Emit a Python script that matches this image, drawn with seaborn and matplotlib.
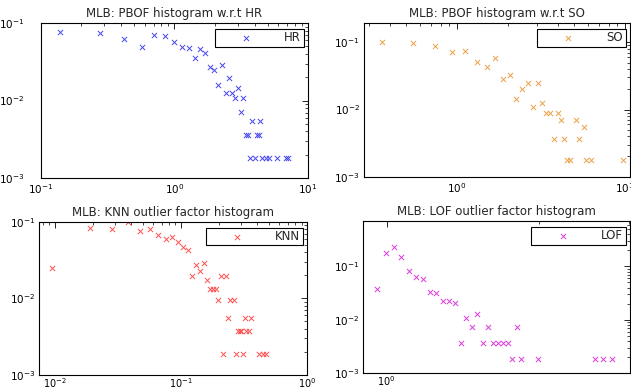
import matplotlib
matplotlib.use("Agg")
import matplotlib.pyplot as plt
import seaborn as sns
import pandas as pd
from matplotlib.ticker import LogLocator, NullFormatter, LogFormatterSciNotation

sns.set_theme(style="white")
plt.rcParams['font.family'] = ['DejaVu Sans']

# ---------------- data ----------------
hr_x = [0.14, 0.28, 0.42, 0.57, 0.71, 0.85, 0.99, 1.14, 1.28, 1.42, 1.56, 1.71, 1.85,
        1.99, 2.13, 2.28, 2.42, 2.56, 2.70, 2.85, 2.99, 3.13, 3.27, 3.42, 3.56, 3.70,
        3.84, 3.99, 4.13, 4.27, 4.41, 4.56, 4.84, 5.13, 5.84, 6.84, 7.12]
hr_y = [0.0765, 0.075, 0.0628, 0.049, 0.070, 0.0687, 0.0574, 0.0496, 0.0471, 0.0357,
        0.0462, 0.0406, 0.0268, 0.025, 0.016, 0.0285, 0.0125, 0.0195, 0.0125, 0.0108,
        0.0145, 0.0072, 0.0108, 0.0036, 0.0036, 0.0018, 0.0054, 0.0018, 0.0036, 0.0036,
        0.0054, 0.0018, 0.0018, 0.0018, 0.0018, 0.0018, 0.0018]

so_x = [0.36, 0.55, 0.74, 0.93, 1.12, 1.31, 1.50, 1.69, 1.88, 2.07, 2.26, 2.45, 2.64,
        2.83, 3.02, 3.21, 3.40, 3.59, 3.78, 3.97, 4.16, 4.35, 4.54, 4.73, 5.11, 5.30,
        5.68, 5.87, 6.25, 9.67]
so_y = [0.100, 0.0977, 0.0892, 0.0718, 0.0743, 0.051, 0.0434, 0.0591, 0.0285, 0.0323,
        0.0143, 0.020, 0.0251, 0.0108, 0.0251, 0.0126, 0.009, 0.009, 0.0036, 0.009,
        0.0071, 0.0036, 0.0018, 0.0018, 0.0071, 0.0036, 0.0054, 0.0018, 0.0018, 0.0018]

knn_x = [0.0094, 0.0188, 0.0282, 0.0376, 0.047, 0.0564, 0.0658, 0.0752, 0.0846, 0.094,
         0.1034, 0.1128, 0.1222, 0.1316, 0.141, 0.1504, 0.1598, 0.1692, 0.1786, 0.188,
         0.1974, 0.2068, 0.2162, 0.2256, 0.235, 0.2444, 0.2632, 0.2726, 0.282, 0.2914,
         0.3008, 0.3102, 0.3196, 0.329, 0.3478, 0.3572, 0.4136, 0.4418, 0.47]
knn_y = [0.0249, 0.0827, 0.0802, 0.099, 0.0763, 0.0802, 0.0676, 0.0594, 0.0631, 0.0543,
         0.0463, 0.0423, 0.0194, 0.0272, 0.0230, 0.0289, 0.0173, 0.0132, 0.0132, 0.0132,
         0.0094, 0.0194, 0.0019, 0.0194, 0.0056, 0.0094, 0.0094, 0.0019, 0.0038, 0.0038,
         0.0038, 0.0019, 0.0056, 0.0038, 0.0038, 0.0056, 0.0019, 0.0019, 0.0019]

lof_x = [0.959, 0.996, 1.033, 1.069, 1.106, 1.143, 1.180, 1.217, 1.253, 1.290, 1.327,
         1.364, 1.401, 1.437, 1.474, 1.511, 1.548, 1.585, 1.621, 1.658, 1.695, 1.732,
         1.769, 1.805, 1.842, 1.989, 2.578, 2.671, 2.786]
lof_y = [0.0379, 0.182, 0.236, 0.153, 0.0818, 0.0641, 0.058, 0.0332, 0.0314, 0.0223,
         0.0223, 0.0207, 0.0037, 0.0109, 0.0074, 0.0129, 0.0037, 0.0074, 0.0037, 0.0037,
         0.0037, 0.0037, 0.00185, 0.0074, 0.00185, 0.00185, 0.00185, 0.00185, 0.00185]

titles = ["MLB: PBOF histogram w.r.t HR", "MLB: PBOF histogram w.r.t SO",
          "MLB: KNN outlier factor histogram", "MLB: LOF outlier factor histogram"]
labels = ["HR", "SO", "KNN", "LOF"]
colors = ["#4646f0", "#eba046", "#ff5050", "#dc3cdc"]

# ---------------- layout (pixels) ----------------
W, H = 631, 391
fig = plt.figure(figsize=(W / 100, H / 100), dpi=100)
fig.patch.set_facecolor("white")

def rect(l, r, t, b):
    return [l / W, 1 - b / H, (r - l) / W, (b - t) / H]

panels = [
    dict(x=hr_x, y=hr_y, pos=rect(40.7, 308, 23, 178), xlim=(0.1, 10), ylim=(1e-3, 1e-1), ypad=12, xpad=3, xls=7.5),
    dict(x=so_x, y=so_y, pos=rect(364, 630, 23, 176.7), xlim=(0.28, 10.7), ylim=(1e-3, 0.194), ypad=3, xpad=3, xls=7.5),
    dict(x=knn_x, y=knn_y, pos=rect(39.3, 307.3, 221.7, 375), xlim=(0.0075, 1.0), ylim=(1e-3, 1e-1), ypad=3, xpad=1, xls=7),
    dict(x=lof_x, y=lof_y, pos=rect(363.3, 630, 221, 373), xlim=(0.9, 3.02), ylim=(1e-3, 0.71), ypad=3, xpad=1, xls=7),
]

for i, p in enumerate(panels):
    ax = fig.add_axes(p["pos"])
    df = pd.DataFrame({"x": p["x"], "y": p["y"]})
    sns.scatterplot(data=df, x="x", y="y", ax=ax, marker="x", color=colors[i],
                    s=14, linewidth=0.7, label=labels[i])
    ax.set_xscale("log")
    ax.set_yscale("log")
    ax.set_xlim(*p["xlim"])
    ax.set_ylim(*p["ylim"])
    ax.set_xlabel("")
    ax.set_ylabel("")
    ax.set_facecolor("white")
    for sp in ax.spines.values():
        sp.set_visible(True)
        sp.set_color("black")
        sp.set_linewidth(0.8)
    for axis in (ax.xaxis, ax.yaxis):
        axis.set_major_locator(LogLocator(base=10, numticks=10))
        axis.set_minor_locator(LogLocator(base=10, subs=range(2, 10), numticks=10))
        axis.set_major_formatter(LogFormatterSciNotation())
        axis.set_minor_formatter(NullFormatter())
    ax.tick_params(which="both", direction="in", top=True, right=True,
                   colors="black", labelsize=7.5)
    ax.tick_params(which="major", length=4, width=0.6)
    ax.tick_params(which="minor", length=2, width=0.5)
    ax.tick_params(axis="x", pad=p["xpad"], labelsize=p["xls"])
    ax.tick_params(axis="y", pad=p["ypad"])
    ax.set_title(titles[i], fontsize=8.5, pad=4)
    ax.legend(loc="upper right", bbox_to_anchor=(1 - 4.5 / (p["pos"][2] * W), 1 - 6 / (p["pos"][3] * H)),
              borderaxespad=0, fontsize=8.5, frameon=True, fancybox=False,
              edgecolor="black", framealpha=1, borderpad=0.2, handlelength=4.9,
              handletextpad=0.8, scatterpoints=1, markerscale=1.0)
    ax.get_legend().get_frame().set_linewidth(0.8)

fig.savefig("out.png", dpi=100, facecolor="white")
